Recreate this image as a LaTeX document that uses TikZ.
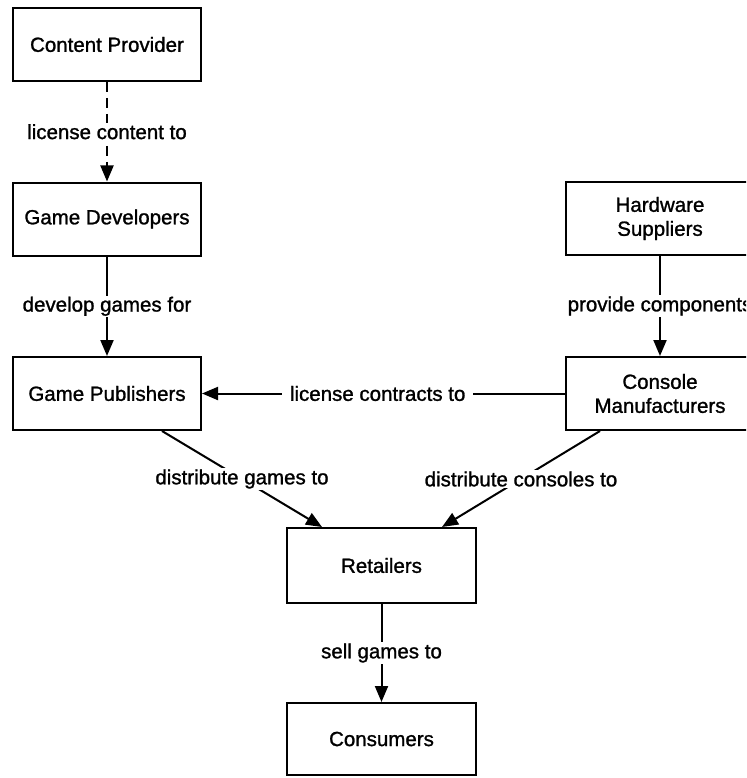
\documentclass[tikz,border=0pt]{standalone}
\usepackage{fontspec}
\setmainfont{Liberation Sans}
\newfontfamily\heavysans{Liberation Sans}[FakeBold=1.2]
\usetikzlibrary{arrows.meta}
\begin{document}
\begin{tikzpicture}[x=1pt,y=-1pt,
  box/.style={draw, line width=2pt, minimum width=188pt, minimum height=73pt,
    align=center, font=\heavysans\fontsize{20.5}{24}\selectfont, inner sep=0pt},
  link/.style={line width=2pt, -{Triangle[length=16pt,width=13pt]}},
  lbl/.style={fill=white, font=\heavysans\fontsize{20.5}{24}\selectfont, inner xsep=8pt, inner ysep=1pt}]
\useasboundingbox (0,0) rectangle (746,778);
\clip (0,0) rectangle (746,778);

% actors
\node[box] (cp) at (107,44.5) {Content Provider};
\node[box] (gd) at (107,219) {Game Developers};
\node[box] (gp) at (107,393.5) {Game Publishers};
\node[box] (hs) at (660,218.5) {Hardware\\Suppliers};
\node[box] (cm) at (660,393.5) {Console\\Manufacturers};
\node[box, minimum width=189pt, minimum height=75pt] (rt) at (381.5,565.5) {Retailers};
\node[box, minimum width=189pt, minimum height=72pt] (cs) at (381.5,739) {Consumers};

% relations
\draw[link, dash pattern=on 10pt off 6pt] (cp) -- node[lbl]{license content to} (gd);
\draw[link] (gd) -- node[lbl]{develop games for} (gp);
\draw[link] (hs) -- node[lbl]{provide components} (cm);
\draw[link] (cm.west) -- node[lbl, pos=0.516]{license contracts to} (gp.east);
\draw[link] ([xshift=55pt]gp.south) -- node[lbl]{distribute games to} ([xshift=-59.5pt]rt.north);
\draw[link] ([xshift=-60pt]cm.south) -- node[lbl]{distribute consoles to} ([xshift=60.5pt]rt.north);
\draw[link] (rt) -- node[lbl]{sell games to} (cs);
\end{tikzpicture}
\end{document}
